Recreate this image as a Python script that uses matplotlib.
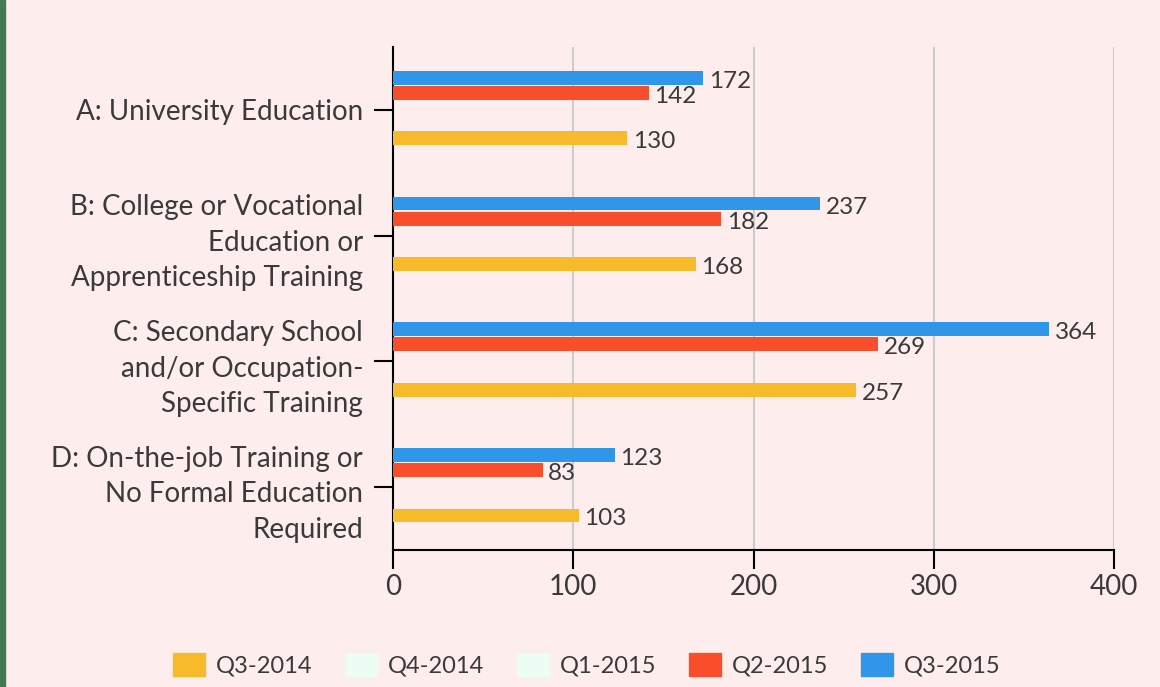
import numpy as np
import matplotlib.pyplot as plt
import matplotlib.patches as mpatches

plt.rcParams['font.family'] = ['Lato', 'DejaVu Sans']

# Data
categories = ['A: University Education',
              'B: College or Vocational\nEducation or\nApprenticeship Training',
              'C: Secondary School\nand/or Occupation-\nSpecific Training',
              'D: On-the-job Training or\nNo Formal Education\nRequired']
series_names = ['Q3-2014', 'Q4-2014', 'Q1-2015', 'Q2-2015', 'Q3-2015']
q3_2014 = [130, 168, 257, 103]
q4_2014 = [np.nan, np.nan, np.nan, np.nan]
q1_2015 = [np.nan, np.nan, np.nan, np.nan]
q2_2015 = [142, 182, 269, 83]
q3_2015 = [172, 237, 364, 123]
series_values = [q3_2014, q4_2014, q1_2015, q2_2015, q3_2015]
colors = ['#F7BA2B', '#ECFDF3', '#ECFDF3', '#F84E2C', '#3096E9']
x_ticks = [0, 100, 200, 300, 400]

bg = '#FDEEED'
txt = '#3a3a3a'

fig = plt.figure(figsize=(11.6, 6.87), dpi=100, facecolor=bg)
ax = fig.add_axes([393 / 1160, 1 - 550 / 687, (1114 - 393) / 1160, (550 - 47) / 687])
ax.set_facecolor(bg)

# green strip on the left edge
fig.patches.append(mpatches.Rectangle((0, 0), 5 / 1160, 1, transform=fig.transFigure,
                                      color='#437a52', zorder=0))

y = np.arange(len(categories))
slot = 0.12
height = 0.11
offsets = [2, 1, 0, -1, -2]

handles = []
for vals, name, col, off in zip(series_values, series_names, colors, offsets):
    pos = y + off * slot - 0.015
    ax.barh(pos, vals, height=height, color=col, zorder=3)
    handles.append(mpatches.Patch(color=col, label=name))
    for p, v in zip(pos, vals):
        if np.isnan(v):
            continue
        ax.annotate(str(v), (v, p), xytext=(4, -2.5), textcoords='offset points',
                    ha='left', va='center', fontsize=17.5, color=txt, zorder=4)

ax.set_ylim(3.5, -0.5)
ax.set_xlim(0, 400)
ax.set_yticks(y)
ax.set_yticklabels(categories, fontsize=20, color=txt, linespacing=1.45)
ax.set_xticks(x_ticks)
ax.set_xticklabels([str(t) for t in x_ticks], fontsize=20, color=txt)
ax.tick_params(axis='both', length=13.5, width=1.5, color='black')
ax.tick_params(axis='y', pad=8)
ax.tick_params(axis='x', pad=4)

ax.grid(axis='x', color='#cccccc', linewidth=1.5, zorder=0)
ax.set_axisbelow(True)
for s in ['top', 'right']:
    ax.spines[s].set_visible(False)
for s in ['left', 'bottom']:
    ax.spines[s].set_linewidth(1.5)
    ax.spines[s].set_color('black')

leg = fig.legend(handles=handles, loc='center', bbox_to_anchor=(0.506, 0.032),
                 ncol=5, frameon=False, fontsize=17, handlelength=1.35,
                 handleheight=1.1, handletextpad=0.45, columnspacing=1.4)
for t in leg.get_texts():
    t.set_color(txt)

fig.savefig('out.png', dpi=100, facecolor=bg)
